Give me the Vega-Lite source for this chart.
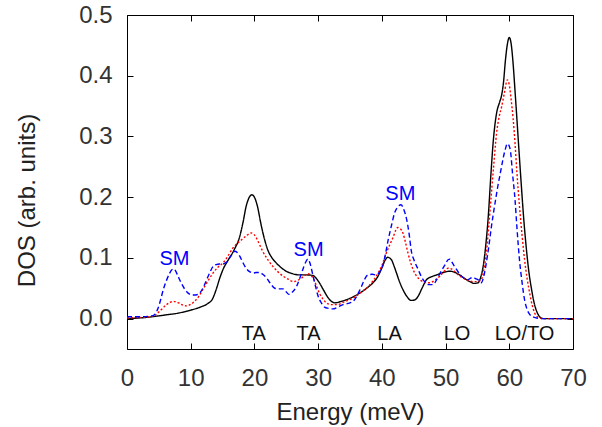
{
  "$schema": "https://vega.github.io/schema/vega-lite/v6.json",
  "autosize": "none",
  "width": 446,
  "height": 334,
  "padding": {"left": 127, "top": 15, "right": 29, "bottom": 78},
  "config": {
    "view": {"stroke": "black", "strokeWidth": 1},
    "font": "Liberation Sans",
    "axis": {"grid": false, "domain": false, "labelFlush": false, "labelOverlap": false, "labelFont": "Liberation Sans", "titleFont": "Liberation Sans", "labelColor": "#333", "titleColor": "#222", "tickColor": "black", "tickWidth": 1, "titleFontWeight": "normal"}
  },
  "datasets": {
    "curves": [
      {"e": 0, "dos": 0.0, "s": "a"},
      {"e": 3, "dos": 0.002, "s": "a"},
      {"e": 6, "dos": 0.006, "s": "a"},
      {"e": 8, "dos": 0.009, "s": "a"},
      {"e": 10, "dos": 0.014, "s": "a"},
      {"e": 11.5, "dos": 0.019, "s": "a"},
      {"e": 12.7, "dos": 0.025, "s": "a"},
      {"e": 13.4, "dos": 0.032, "s": "a"},
      {"e": 14.0, "dos": 0.048, "s": "a"},
      {"e": 14.6, "dos": 0.068, "s": "a"},
      {"e": 15.2, "dos": 0.084, "s": "a"},
      {"e": 15.8, "dos": 0.095, "s": "a"},
      {"e": 16.9, "dos": 0.115, "s": "a"},
      {"e": 17.6, "dos": 0.132, "s": "a"},
      {"e": 18.2, "dos": 0.158, "s": "a"},
      {"e": 18.7, "dos": 0.185, "s": "a"},
      {"e": 19.2, "dos": 0.2, "s": "a"},
      {"e": 19.6, "dos": 0.204, "s": "a"},
      {"e": 20.0, "dos": 0.2, "s": "a"},
      {"e": 20.4, "dos": 0.188, "s": "a"},
      {"e": 21.1, "dos": 0.152, "s": "a"},
      {"e": 21.6, "dos": 0.13, "s": "a"},
      {"e": 22.1, "dos": 0.113, "s": "a"},
      {"e": 22.7, "dos": 0.101, "s": "a"},
      {"e": 23.4, "dos": 0.092, "s": "a"},
      {"e": 24.2, "dos": 0.084, "s": "a"},
      {"e": 25.0, "dos": 0.078, "s": "a"},
      {"e": 26.0, "dos": 0.074, "s": "a"},
      {"e": 27.0, "dos": 0.072, "s": "a"},
      {"e": 28.2, "dos": 0.072, "s": "a"},
      {"e": 29.2, "dos": 0.071, "s": "a"},
      {"e": 29.8, "dos": 0.065, "s": "a"},
      {"e": 30.2, "dos": 0.059, "s": "a"},
      {"e": 30.9, "dos": 0.046, "s": "a"},
      {"e": 31.6, "dos": 0.034, "s": "a"},
      {"e": 32.6, "dos": 0.026, "s": "a"},
      {"e": 33.5, "dos": 0.028, "s": "a"},
      {"e": 34.4, "dos": 0.031, "s": "a"},
      {"e": 35.5, "dos": 0.036, "s": "a"},
      {"e": 36.5, "dos": 0.042, "s": "a"},
      {"e": 37.6, "dos": 0.05, "s": "a"},
      {"e": 38.6, "dos": 0.059, "s": "a"},
      {"e": 39.4, "dos": 0.07, "s": "a"},
      {"e": 39.9, "dos": 0.081, "s": "a"},
      {"e": 40.5, "dos": 0.096, "s": "a"},
      {"e": 40.9, "dos": 0.101, "s": "a"},
      {"e": 41.5, "dos": 0.097, "s": "a"},
      {"e": 41.9, "dos": 0.087, "s": "a"},
      {"e": 42.3, "dos": 0.075, "s": "a"},
      {"e": 42.8, "dos": 0.06, "s": "a"},
      {"e": 43.3, "dos": 0.048, "s": "a"},
      {"e": 43.9, "dos": 0.037, "s": "a"},
      {"e": 44.6, "dos": 0.03, "s": "a"},
      {"e": 45.2, "dos": 0.031, "s": "a"},
      {"e": 45.7, "dos": 0.037, "s": "a"},
      {"e": 46.3, "dos": 0.05, "s": "a"},
      {"e": 47.0, "dos": 0.064, "s": "a"},
      {"e": 47.8, "dos": 0.069, "s": "a"},
      {"e": 48.6, "dos": 0.072, "s": "a"},
      {"e": 49.6, "dos": 0.076, "s": "a"},
      {"e": 50.7, "dos": 0.078, "s": "a"},
      {"e": 51.5, "dos": 0.076, "s": "a"},
      {"e": 52.2, "dos": 0.072, "s": "a"},
      {"e": 53.0, "dos": 0.066, "s": "a"},
      {"e": 53.8, "dos": 0.061, "s": "a"},
      {"e": 54.5, "dos": 0.058, "s": "a"},
      {"e": 55.1, "dos": 0.059, "s": "a"},
      {"e": 55.5, "dos": 0.068, "s": "a"},
      {"e": 55.9, "dos": 0.086, "s": "a"},
      {"e": 56.3, "dos": 0.12, "s": "a"},
      {"e": 56.7, "dos": 0.168, "s": "a"},
      {"e": 57.1, "dos": 0.235, "s": "a"},
      {"e": 57.5, "dos": 0.294, "s": "a"},
      {"e": 58.0, "dos": 0.338, "s": "a"},
      {"e": 58.5, "dos": 0.357, "s": "a"},
      {"e": 58.8, "dos": 0.368, "s": "a"},
      {"e": 59.1, "dos": 0.39, "s": "a"},
      {"e": 59.4, "dos": 0.426, "s": "a"},
      {"e": 59.7, "dos": 0.452, "s": "a"},
      {"e": 60.0, "dos": 0.463, "s": "a"},
      {"e": 60.3, "dos": 0.452, "s": "a"},
      {"e": 60.6, "dos": 0.42, "s": "a"},
      {"e": 60.9, "dos": 0.375, "s": "a"},
      {"e": 61.1, "dos": 0.344, "s": "a"},
      {"e": 61.5, "dos": 0.28, "s": "a"},
      {"e": 61.9, "dos": 0.218, "s": "a"},
      {"e": 62.3, "dos": 0.16, "s": "a"},
      {"e": 62.7, "dos": 0.113, "s": "a"},
      {"e": 63.1, "dos": 0.075, "s": "a"},
      {"e": 63.5, "dos": 0.048, "s": "a"},
      {"e": 63.9, "dos": 0.026, "s": "a"},
      {"e": 64.3, "dos": 0.012, "s": "a"},
      {"e": 64.7, "dos": 0.004, "s": "a"},
      {"e": 65.0, "dos": 0.001, "s": "a"},
      {"e": 65.5, "dos": 0.0, "s": "a"},
      {"e": 70, "dos": 0.0, "s": "a"},

      {"e": 0, "dos": 0.001, "s": "b"},
      {"e": 2, "dos": 0.002, "s": "b"},
      {"e": 3.5, "dos": 0.003, "s": "b"},
      {"e": 4.3, "dos": 0.005, "s": "b"},
      {"e": 4.8, "dos": 0.009, "s": "b"},
      {"e": 5.4, "dos": 0.015, "s": "b"},
      {"e": 6.2, "dos": 0.023, "s": "b"},
      {"e": 6.8, "dos": 0.027, "s": "b"},
      {"e": 7.3, "dos": 0.0285, "s": "b"},
      {"e": 7.8, "dos": 0.027, "s": "b"},
      {"e": 8.3, "dos": 0.025, "s": "b"},
      {"e": 8.8, "dos": 0.022, "s": "b"},
      {"e": 9.3, "dos": 0.021, "s": "b"},
      {"e": 9.9, "dos": 0.023, "s": "b"},
      {"e": 10.6, "dos": 0.0285, "s": "b"},
      {"e": 11.3, "dos": 0.037, "s": "b"},
      {"e": 11.9, "dos": 0.048, "s": "b"},
      {"e": 12.7, "dos": 0.062, "s": "b"},
      {"e": 13.5, "dos": 0.075, "s": "b"},
      {"e": 14.3, "dos": 0.085, "s": "b"},
      {"e": 15.1, "dos": 0.092, "s": "b"},
      {"e": 15.9, "dos": 0.104, "s": "b"},
      {"e": 16.6, "dos": 0.116, "s": "b"},
      {"e": 17.3, "dos": 0.124, "s": "b"},
      {"e": 18.0, "dos": 0.13, "s": "b"},
      {"e": 18.8, "dos": 0.137, "s": "b"},
      {"e": 19.5, "dos": 0.141, "s": "b"},
      {"e": 19.9, "dos": 0.139, "s": "b"},
      {"e": 20.3, "dos": 0.133, "s": "b"},
      {"e": 20.8, "dos": 0.122, "s": "b"},
      {"e": 21.3, "dos": 0.111, "s": "b"},
      {"e": 22.1, "dos": 0.097, "s": "b"},
      {"e": 22.9, "dos": 0.086, "s": "b"},
      {"e": 23.7, "dos": 0.077, "s": "b"},
      {"e": 24.5, "dos": 0.07, "s": "b"},
      {"e": 25.3, "dos": 0.065, "s": "b"},
      {"e": 26.1, "dos": 0.061, "s": "b"},
      {"e": 26.8, "dos": 0.063, "s": "b"},
      {"e": 27.4, "dos": 0.067, "s": "b"},
      {"e": 27.9, "dos": 0.071, "s": "b"},
      {"e": 28.4, "dos": 0.074, "s": "b"},
      {"e": 28.8, "dos": 0.072, "s": "b"},
      {"e": 29.2, "dos": 0.067, "s": "b"},
      {"e": 29.7, "dos": 0.055, "s": "b"},
      {"e": 30.2, "dos": 0.042, "s": "b"},
      {"e": 30.7, "dos": 0.033, "s": "b"},
      {"e": 31.3, "dos": 0.026, "s": "b"},
      {"e": 32.1, "dos": 0.023, "s": "b"},
      {"e": 32.9, "dos": 0.023, "s": "b"},
      {"e": 34.2, "dos": 0.028, "s": "b"},
      {"e": 35.5, "dos": 0.034, "s": "b"},
      {"e": 36.6, "dos": 0.042, "s": "b"},
      {"e": 37.6, "dos": 0.05, "s": "b"},
      {"e": 38.6, "dos": 0.062, "s": "b"},
      {"e": 39.4, "dos": 0.075, "s": "b"},
      {"e": 40.1, "dos": 0.09, "s": "b"},
      {"e": 40.7, "dos": 0.108, "s": "b"},
      {"e": 41.3, "dos": 0.123, "s": "b"},
      {"e": 41.8, "dos": 0.135, "s": "b"},
      {"e": 42.2, "dos": 0.146, "s": "b"},
      {"e": 42.5, "dos": 0.15, "s": "b"},
      {"e": 42.9, "dos": 0.148, "s": "b"},
      {"e": 43.3, "dos": 0.141, "s": "b"},
      {"e": 43.7, "dos": 0.126, "s": "b"},
      {"e": 44.1, "dos": 0.108, "s": "b"},
      {"e": 44.5, "dos": 0.093, "s": "b"},
      {"e": 44.9, "dos": 0.081, "s": "b"},
      {"e": 45.4, "dos": 0.071, "s": "b"},
      {"e": 46.0, "dos": 0.064, "s": "b"},
      {"e": 46.7, "dos": 0.06, "s": "b"},
      {"e": 47.5, "dos": 0.059, "s": "b"},
      {"e": 48.3, "dos": 0.063, "s": "b"},
      {"e": 49.1, "dos": 0.07, "s": "b"},
      {"e": 49.8, "dos": 0.078, "s": "b"},
      {"e": 50.4, "dos": 0.083, "s": "b"},
      {"e": 50.9, "dos": 0.082, "s": "b"},
      {"e": 51.4, "dos": 0.078, "s": "b"},
      {"e": 52.0, "dos": 0.072, "s": "b"},
      {"e": 52.7, "dos": 0.067, "s": "b"},
      {"e": 53.5, "dos": 0.063, "s": "b"},
      {"e": 54.3, "dos": 0.061, "s": "b"},
      {"e": 55.0, "dos": 0.061, "s": "b"},
      {"e": 55.6, "dos": 0.064, "s": "b"},
      {"e": 56.0, "dos": 0.08, "s": "b"},
      {"e": 56.4, "dos": 0.108, "s": "b"},
      {"e": 56.8, "dos": 0.155, "s": "b"},
      {"e": 57.2, "dos": 0.207, "s": "b"},
      {"e": 57.6, "dos": 0.258, "s": "b"},
      {"e": 58.0, "dos": 0.305, "s": "b"},
      {"e": 58.4, "dos": 0.332, "s": "b"},
      {"e": 58.8, "dos": 0.349, "s": "b"},
      {"e": 59.2, "dos": 0.37, "s": "b"},
      {"e": 59.7, "dos": 0.393, "s": "b"},
      {"e": 60.0, "dos": 0.385, "s": "b"},
      {"e": 60.3, "dos": 0.36, "s": "b"},
      {"e": 60.6, "dos": 0.33, "s": "b"},
      {"e": 60.9, "dos": 0.289, "s": "b"},
      {"e": 61.2, "dos": 0.24, "s": "b"},
      {"e": 61.6, "dos": 0.185, "s": "b"},
      {"e": 62.0, "dos": 0.138, "s": "b"},
      {"e": 62.4, "dos": 0.097, "s": "b"},
      {"e": 62.8, "dos": 0.066, "s": "b"},
      {"e": 63.2, "dos": 0.042, "s": "b"},
      {"e": 63.6, "dos": 0.022, "s": "b"},
      {"e": 64.0, "dos": 0.009, "s": "b"},
      {"e": 64.4, "dos": 0.003, "s": "b"},
      {"e": 64.8, "dos": 0.001, "s": "b"},
      {"e": 65.5, "dos": 0.0, "s": "b"},
      {"e": 70, "dos": 0.0, "s": "b"},

      {"e": 0, "dos": 0.003, "s": "c"},
      {"e": 2, "dos": 0.003, "s": "c"},
      {"e": 3.5, "dos": 0.004, "s": "c"},
      {"e": 4.1, "dos": 0.005, "s": "c"},
      {"e": 4.5, "dos": 0.009, "s": "c"},
      {"e": 4.9, "dos": 0.018, "s": "c"},
      {"e": 5.3, "dos": 0.032, "s": "c"},
      {"e": 5.7, "dos": 0.048, "s": "c"},
      {"e": 6.2, "dos": 0.063, "s": "c"},
      {"e": 6.7, "dos": 0.075, "s": "c"},
      {"e": 7.0, "dos": 0.08, "s": "c"},
      {"e": 7.3, "dos": 0.082, "s": "c"},
      {"e": 7.6, "dos": 0.079, "s": "c"},
      {"e": 8.0, "dos": 0.07, "s": "c"},
      {"e": 8.5, "dos": 0.059, "s": "c"},
      {"e": 9.1, "dos": 0.048, "s": "c"},
      {"e": 9.6, "dos": 0.042, "s": "c"},
      {"e": 10.1, "dos": 0.039, "s": "c"},
      {"e": 10.8, "dos": 0.039, "s": "c"},
      {"e": 11.4, "dos": 0.042, "s": "c"},
      {"e": 12.0, "dos": 0.052, "s": "c"},
      {"e": 12.5, "dos": 0.064, "s": "c"},
      {"e": 13.0, "dos": 0.076, "s": "c"},
      {"e": 13.5, "dos": 0.086, "s": "c"},
      {"e": 14.0, "dos": 0.089, "s": "c"},
      {"e": 14.5, "dos": 0.09, "s": "c"},
      {"e": 15.0, "dos": 0.09, "s": "c"},
      {"e": 15.6, "dos": 0.093, "s": "c"},
      {"e": 16.3, "dos": 0.103, "s": "c"},
      {"e": 16.9, "dos": 0.111, "s": "c"},
      {"e": 17.3, "dos": 0.109, "s": "c"},
      {"e": 17.7, "dos": 0.103, "s": "c"},
      {"e": 18.2, "dos": 0.092, "s": "c"},
      {"e": 18.7, "dos": 0.083, "s": "c"},
      {"e": 19.3, "dos": 0.077, "s": "c"},
      {"e": 19.8, "dos": 0.075, "s": "c"},
      {"e": 20.3, "dos": 0.076, "s": "c"},
      {"e": 20.8, "dos": 0.076, "s": "c"},
      {"e": 21.3, "dos": 0.073, "s": "c"},
      {"e": 21.9, "dos": 0.067, "s": "c"},
      {"e": 22.5, "dos": 0.058, "s": "c"},
      {"e": 23.2, "dos": 0.05, "s": "c"},
      {"e": 23.8, "dos": 0.049, "s": "c"},
      {"e": 24.5, "dos": 0.049, "s": "c"},
      {"e": 25.0, "dos": 0.044, "s": "c"},
      {"e": 25.4, "dos": 0.04, "s": "c"},
      {"e": 25.9, "dos": 0.043, "s": "c"},
      {"e": 26.6, "dos": 0.053, "s": "c"},
      {"e": 27.1, "dos": 0.066, "s": "c"},
      {"e": 27.6, "dos": 0.081, "s": "c"},
      {"e": 28.0, "dos": 0.092, "s": "c"},
      {"e": 28.4, "dos": 0.098, "s": "c"},
      {"e": 28.7, "dos": 0.092, "s": "c"},
      {"e": 29.1, "dos": 0.075, "s": "c"},
      {"e": 29.5, "dos": 0.057, "s": "c"},
      {"e": 30.0, "dos": 0.037, "s": "c"},
      {"e": 30.5, "dos": 0.026, "s": "c"},
      {"e": 31.0, "dos": 0.019, "s": "c"},
      {"e": 31.6, "dos": 0.017, "s": "c"},
      {"e": 32.3, "dos": 0.016, "s": "c"},
      {"e": 33.1, "dos": 0.019, "s": "c"},
      {"e": 33.9, "dos": 0.023, "s": "c"},
      {"e": 34.7, "dos": 0.025, "s": "c"},
      {"e": 35.5, "dos": 0.0285, "s": "c"},
      {"e": 36.2, "dos": 0.04, "s": "c"},
      {"e": 36.8, "dos": 0.053, "s": "c"},
      {"e": 37.3, "dos": 0.065, "s": "c"},
      {"e": 37.8, "dos": 0.072, "s": "c"},
      {"e": 38.5, "dos": 0.073, "s": "c"},
      {"e": 39.1, "dos": 0.072, "s": "c"},
      {"e": 39.7, "dos": 0.078, "s": "c"},
      {"e": 40.2, "dos": 0.089, "s": "c"},
      {"e": 40.6, "dos": 0.108, "s": "c"},
      {"e": 41.0, "dos": 0.13, "s": "c"},
      {"e": 41.5, "dos": 0.153, "s": "c"},
      {"e": 42.0, "dos": 0.174, "s": "c"},
      {"e": 42.5, "dos": 0.184, "s": "c"},
      {"e": 43.0, "dos": 0.1875, "s": "c"},
      {"e": 43.5, "dos": 0.178, "s": "c"},
      {"e": 43.9, "dos": 0.163, "s": "c"},
      {"e": 44.3, "dos": 0.138, "s": "c"},
      {"e": 44.6, "dos": 0.113, "s": "c"},
      {"e": 45.1, "dos": 0.095, "s": "c"},
      {"e": 45.7, "dos": 0.081, "s": "c"},
      {"e": 46.2, "dos": 0.069, "s": "c"},
      {"e": 46.7, "dos": 0.061, "s": "c"},
      {"e": 47.3, "dos": 0.056, "s": "c"},
      {"e": 48.0, "dos": 0.056, "s": "c"},
      {"e": 48.7, "dos": 0.066, "s": "c"},
      {"e": 49.3, "dos": 0.078, "s": "c"},
      {"e": 50.0, "dos": 0.09, "s": "c"},
      {"e": 50.4, "dos": 0.097, "s": "c"},
      {"e": 50.7, "dos": 0.098, "s": "c"},
      {"e": 51.0, "dos": 0.093, "s": "c"},
      {"e": 51.4, "dos": 0.086, "s": "c"},
      {"e": 51.9, "dos": 0.078, "s": "c"},
      {"e": 52.5, "dos": 0.07, "s": "c"},
      {"e": 53.0, "dos": 0.066, "s": "c"},
      {"e": 53.5, "dos": 0.064, "s": "c"},
      {"e": 54.0, "dos": 0.067, "s": "c"},
      {"e": 54.3, "dos": 0.068, "s": "c"},
      {"e": 54.7, "dos": 0.066, "s": "c"},
      {"e": 55.1, "dos": 0.064, "s": "c"},
      {"e": 55.6, "dos": 0.059, "s": "c"},
      {"e": 56.0, "dos": 0.07, "s": "c"},
      {"e": 56.4, "dos": 0.092, "s": "c"},
      {"e": 56.8, "dos": 0.12, "s": "c"},
      {"e": 57.2, "dos": 0.152, "s": "c"},
      {"e": 57.7, "dos": 0.186, "s": "c"},
      {"e": 58.2, "dos": 0.218, "s": "c"},
      {"e": 58.6, "dos": 0.24, "s": "c"},
      {"e": 59.0, "dos": 0.262, "s": "c"},
      {"e": 59.4, "dos": 0.28, "s": "c"},
      {"e": 59.7, "dos": 0.288, "s": "c"},
      {"e": 60.0, "dos": 0.284, "s": "c"},
      {"e": 60.2, "dos": 0.275, "s": "c"},
      {"e": 60.5, "dos": 0.24, "s": "c"},
      {"e": 60.9, "dos": 0.196, "s": "c"},
      {"e": 61.2, "dos": 0.15, "s": "c"},
      {"e": 61.6, "dos": 0.097, "s": "c"},
      {"e": 62.0, "dos": 0.06, "s": "c"},
      {"e": 62.4, "dos": 0.031, "s": "c"},
      {"e": 62.8, "dos": 0.015, "s": "c"},
      {"e": 63.2, "dos": 0.007, "s": "c"},
      {"e": 63.7, "dos": 0.003, "s": "c"},
      {"e": 64.3, "dos": 0.001, "s": "c"},
      {"e": 65, "dos": 0.0, "s": "c"},
      {"e": 70, "dos": 0.0, "s": "c"}
    ],
    "sm": [
      {"e": 7.46, "dos": 0.0877, "label": "SM"},
      {"e": 28.5, "dos": 0.1025, "label": "SM"},
      {"e": 42.9, "dos": 0.1957, "label": "SM"}
    ],
    "modes": [
      {"e": 19.9, "dos": -0.0345, "label": "TA"},
      {"e": 28.5, "dos": -0.0345, "label": "TA"},
      {"e": 41.2, "dos": -0.0345, "label": "LA"},
      {"e": 51.8, "dos": -0.0345, "label": "LO"},
      {"e": 62.4, "dos": -0.0345, "label": "LO/TO"}
    ]
  },
  "layer": [
    {
      "data": {"name": "curves"},
      "mark": {"type": "line", "interpolate": "monotone", "strokeWidth": 1.4, "clip": true},
      "encoding": {
        "x": {"field": "e", "type": "quantitative", "scale": {"domain": [0, 70], "nice": false},
              "axis": {"orient": "bottom", "values": [0, 10, 20, 30, 40, 50, 60, 70], "title": "Energy (meV)", "tickSize": -6, "labelPadding": 23, "labelFontSize": 24, "titleFontSize": 24, "titleY": 63, "titleBaseline": "middle"}},
        "y": {"field": "dos", "type": "quantitative", "scale": {"domain": [-0.05, 0.5], "nice": false, "zero": false},
              "axis": {"orient": "left", "values": [0, 0.1, 0.2, 0.3, 0.4, 0.5], "format": ".1f", "title": "DOS (arb. units)", "tickSize": -6, "labelPadding": 21, "labelFontSize": 24, "titleFontSize": 24, "titleX": -100, "titleY": 185, "titleAngle": -90, "titleBaseline": "middle", "titleAlign": "center"}},
        "color": {"field": "s", "type": "nominal", "scale": {"domain": ["c", "b", "a"], "range": ["#0000ff", "#ff0000", "#000000"]}, "legend": null},
        "strokeDash": {"field": "s", "type": "nominal", "scale": {"domain": ["c", "b", "a"], "range": [[5, 3], [2, 2], [1, 0]]}, "legend": null}
      }
    },
    {
      "data": {"name": "sm"},
      "mark": {"type": "text", "fontSize": 20, "color": "#0000ff", "baseline": "alphabetic", "align": "center"},
      "encoding": {
        "x": {"field": "e", "type": "quantitative", "axis": {"orient": "top", "values": [0, 10, 20, 30, 40, 50, 60, 70], "labels": false, "title": null, "tickSize": -6}},
        "y": {"field": "dos", "type": "quantitative", "axis": {"orient": "right", "values": [0, 0.1, 0.2, 0.3, 0.4, 0.5], "labels": false, "title": null, "tickSize": -6}},
        "text": {"field": "label"}
      }
    },
    {
      "data": {"name": "modes"},
      "mark": {"type": "text", "fontSize": 20, "color": "#111111", "baseline": "alphabetic", "align": "center"},
      "encoding": {
        "x": {"field": "e", "type": "quantitative", "axis": null},
        "y": {"field": "dos", "type": "quantitative", "axis": null},
        "text": {"field": "label"}
      }
    }
  ],
  "resolve": {"axis": {"x": "independent", "y": "independent"}}
}
